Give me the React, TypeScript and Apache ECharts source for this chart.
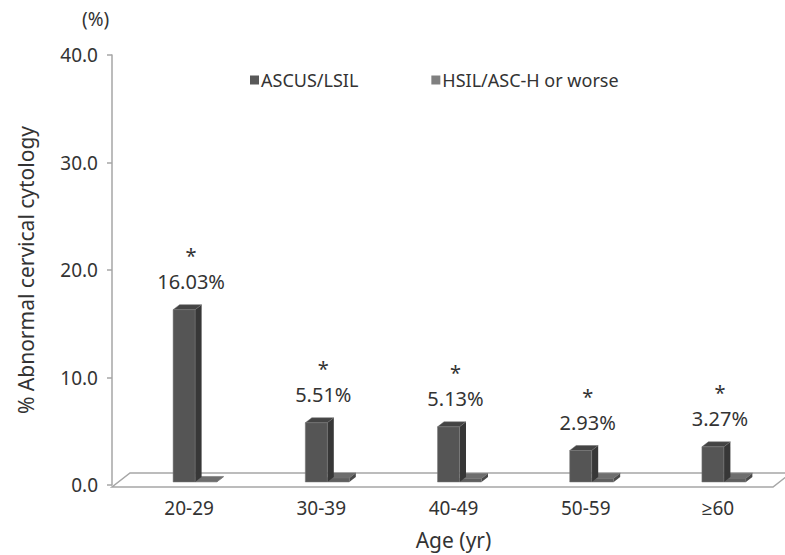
import React, { useEffect, useRef } from "react";
import * as echarts from "echarts";

const categories = ["20-29", "30-39", "40-49", "50-59", "≥60"];
const ascusValues = [16.03, 5.51, 5.13, 2.93, 3.27];
const hsilValues = [0.05, 0.38, 0.32, 0.35, 0.36];
const ascusLabels = ["16.03%", "5.51%", "5.13%", "2.93%", "3.27%"];
const yTicks = [0, 10, 20, 30, 40];

const FONT = "'Noto Sans', 'Open Sans', sans-serif";
const TXT = "#333333";

export default function App() {
  const ref = useRef<HTMLDivElement>(null);
  useEffect(() => {
    document.body.style.margin = "0";
    const chart = echarts.init(ref.current!, null, { renderer: "svg" });

    const barW = 22;
    const dx = 6.5;
    const dy = -5;

    const make3D = (x0: number, y0: number, y1: number, front: string, side: string, top: string) => [
      {
        type: "polygon",
        shape: { points: [[x0 + barW, y0], [x0 + barW + dx, y0 + dy], [x0 + barW + dx, y1 + dy], [x0 + barW, y1]] },
        style: { fill: side },
      },
      {
        type: "polygon",
        shape: { points: [[x0, y0], [x0 + dx, y0 + dy], [x0 + barW + dx, y0 + dy], [x0 + barW, y0]] },
        style: { fill: top, stroke: "#6a6a6a", lineWidth: 0.5 },
      },
      {
        type: "rect",
        shape: { x: x0, y: y0, width: barW, height: Math.max(y1 - y0, 0.5) },
        style: { fill: front, stroke: "#7a7a7a", lineWidth: 0.5 },
      },
    ];

    const option: any = {
      animation: false,
      textStyle: { fontFamily: FONT },
      grid: { left: 123, right: 1, top: 55, bottom: 70, containLabel: false },
      legend: {
        left: 245,
        top: 66,
        itemWidth: 9,
        itemHeight: 9,
        itemGap: 73,
        icon: "rect",
        textStyle: { fontSize: 18, color: TXT, fontFamily: FONT, padding: [0, 0, 0, -3] },
        data: ["ASCUS/LSIL", "HSIL/ASC-H or worse"],
      },
      xAxis: {
        type: "category",
        data: categories,
        axisLine: { show: false },
        axisTick: { show: false },
        axisLabel: { fontSize: 19, color: TXT, margin: 13, fontFamily: FONT },
        name: "Age (yr)",
        nameLocation: "middle",
        nameGap: 44,
        nameTextStyle: { fontSize: 21, color: TXT, fontFamily: FONT },
      },
      yAxis: {
        type: "value",
        min: yTicks[0],
        max: yTicks[yTicks.length - 1],
        interval: 10,
        offset: 11,
        splitLine: { show: false },
        axisLine: { show: true, lineStyle: { color: "#a6a6a6", width: 1.5 } },
        axisTick: { show: true, length: 5, lineStyle: { color: "#a6a6a6", width: 1.5 } },
        axisLabel: { fontSize: 19, color: TXT, margin: 14, formatter: (v: number) => v.toFixed(1), fontFamily: FONT },
        name: "% Abnormal cervical cytology",
        nameLocation: "middle",
        nameGap: 76,
        nameRotate: 90,
        nameTextStyle: { fontSize: 21, color: TXT, fontFamily: FONT },
      },
      graphic: [
        {
          type: "text",
          left: 82,
          top: 9,
          style: { text: "(%)", fontSize: 19, fill: TXT, fontFamily: FONT },
        },
      ],
      series: [
        {
          name: "floor",
          type: "custom",
          silent: true,
          z: 1,
          data: [[0, 0]],
          renderItem: (params: any, api: any) => {
            const cs = params.coordSys;
            const fy = cs.y + cs.height + 2;
            const by = cs.y + cs.height - 12;
            const fl = cs.x - 11;
            const fr = cs.x + cs.width - 11;
            return {
              type: "polygon",
              shape: { points: [[fl, fy], [fr, fy], [fr + 18, by], [fl + 18, by]] },
              style: { fill: "#ffffff", stroke: "#a6a6a6", lineWidth: 1.5 },
            };
          },
        },
        {
          name: "ASCUS/LSIL",
          type: "custom",
          z: 3,
          itemStyle: { color: "#595959" },
          data: ascusValues.map((v, i) => [i, v]),
          encode: { x: 0, y: 1 },
          renderItem: (params: any, api: any) => {
            const i = api.value(0);
            const v = api.value(1);
            const top = api.coord([i, v]);
            const base = api.coord([i, 0]);
            const cx = top[0];
            const x0 = cx - 16;
            const y0 = top[1] - 3;
            const y1 = base[1] - 3;
            return {
              type: "group",
              children: [
                ...make3D(x0, y0, y1, "#555555", "#373737", "#444444"),
                {
                  type: "text",
                  style: {
                    x: cx + 2,
                    y: y0 - 41,
                    text: "*\n" + ascusLabels[params.dataIndex],
                    fontSize: 20,
                    lineHeight: 26,
                    fill: TXT,
                    fontFamily: FONT,
                    align: "center",
                    verticalAlign: "middle",
                  },
                },
              ],
            };
          },
        },
        {
          name: "HSIL/ASC-H or worse",
          type: "custom",
          z: 2,
          itemStyle: { color: "#808080" },
          data: hsilValues.map((v, i) => [i, v]),
          encode: { x: 0, y: 1 },
          renderItem: (params: any, api: any) => {
            const i = api.value(0);
            const v = api.value(1);
            const top = api.coord([i, v]);
            const base = api.coord([i, 0]);
            const cx = top[0];
            const x0 = cx + 6;
            const y0 = top[1] - 3;
            const y1 = base[1] - 3;
            return {
              type: "group",
              children: make3D(x0, y0, y1, "#5f5f5f", "#4a4a4a", "#6e6e6e"),
            };
          },
        },
      ],
    };
    chart.setOption(option);
    return () => chart.dispose();
  }, []);
  return <div ref={ref} style={{ width: 785, height: 555 }} />;
}
